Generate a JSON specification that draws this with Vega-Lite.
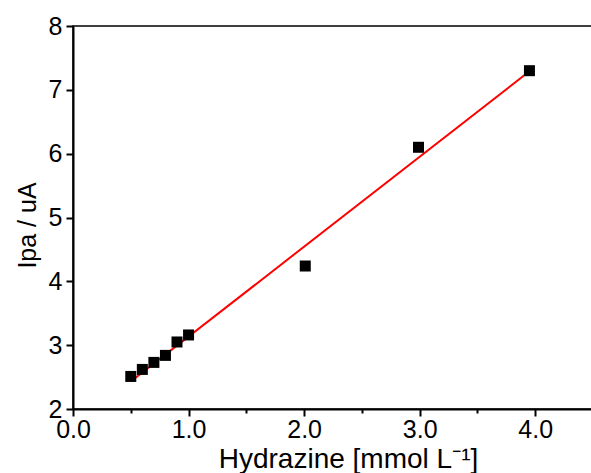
{
  "$schema": "https://vega.github.io/schema/vega-lite/v6.json",
  "width": 520,
  "height": 383,
  "autosize": "none",
  "padding": {"left": 73, "top": 26, "right": 0, "bottom": 64},
  "background": "white",
  "config": {
    "view": {"stroke": "black", "strokeWidth": 1.5},
    "font": "Liberation Sans",
    "axis": {
      "domainColor": "black", "domainWidth": 2,
      "tickColor": "black", "tickWidth": 2,
      "labelColor": "black", "titleColor": "black",
      "labelFont": "Liberation Sans", "titleFont": "Liberation Sans",
      "labelFontSize": 25, "titleFontSize": 27, "titleFontWeight": "normal",
      "grid": false
    }
  },
  "datasets": {
    "pts": [
      {"x": 0.5, "y": 2.51},
      {"x": 0.6, "y": 2.62},
      {"x": 0.7, "y": 2.73},
      {"x": 0.8, "y": 2.84},
      {"x": 0.9, "y": 3.05},
      {"x": 1.0, "y": 3.16},
      {"x": 2.01, "y": 4.24},
      {"x": 2.99, "y": 6.1},
      {"x": 3.95, "y": 7.3}
    ],
    "fit": [
      {"x": 0.5, "y": 2.43},
      {"x": 3.95, "y": 7.29}
    ]
  },
  "layer": [
    {
      "data": {"name": "fit"},
      "mark": {"type": "line", "color": "#ff0000", "strokeWidth": 2},
      "encoding": {
        "x": {"field": "x", "type": "quantitative"},
        "y": {"field": "y", "type": "quantitative"}
      }
    },
    {
      "data": {"name": "pts"},
      "mark": {"type": "point", "shape": "square", "filled": true, "color": "black", "opacity": 1, "size": 121},
      "encoding": {
        "x": {
          "field": "x", "type": "quantitative",
          "scale": {"domain": [0, 4.5], "nice": false, "zero": false},
          "axis": {
            "title": "Hydrazine [mmol L⁻¹]",
            "values": [0, 0.5, 1, 1.5, 2, 2.5, 3, 3.5, 4, 4.5],
            "labelExpr": "datum.value % 1 === 0 ? format(datum.value, '.1f') : ''",
            "tickSize": {"condition": {"test": "datum.value % 1 !== 0", "value": 4}, "value": 7},
            "labelPadding": 1,
            "titlePadding": 3,
            "titleFontSize": 28,
            "titleX": 275,
            "labelFlush": false
          }
        },
        "y": {
          "field": "y", "type": "quantitative",
          "scale": {"domain": [2, 8], "nice": false, "zero": false},
          "axis": {
            "title": "Ipa / uA",
            "values": [2, 2.5, 3, 3.5, 4, 4.5, 5, 5.5, 6, 6.5, 7, 7.5, 8],
            "labelExpr": "datum.value % 1 === 0 ? format(datum.value, 'd') : ''",
            "tickSize": {"condition": {"test": "datum.value % 1 !== 0", "value": 4}, "value": 7},
            "labelPadding": 4,
            "titlePadding": 8,
            "titleFontSize": 25,
            "titleY": 199,
            "labelFlush": false
          }
        }
      }
    }
  ]
}
